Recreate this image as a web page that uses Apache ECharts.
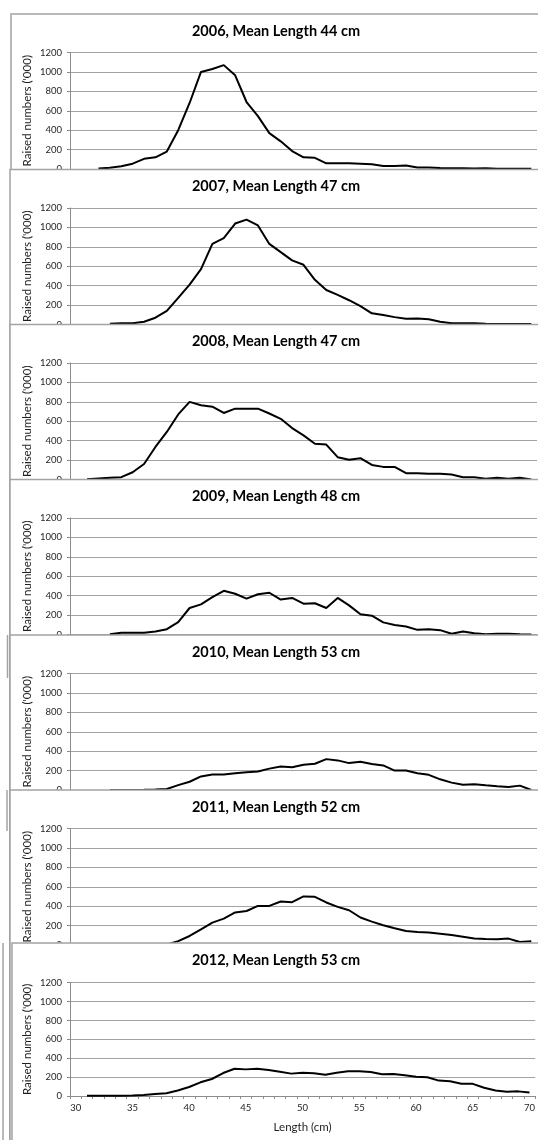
<!DOCTYPE html>
<html>
<head>
<meta charset="utf-8">
<script src="https://cdn.jsdelivr.net/npm/echarts@6/dist/echarts.min.js"></script>
<style>
  html, body { margin: 0; padding: 0; background: #fff; }
  #chart { width: 538px; height: 1140px; }
</style>
</head>
<body>
<div id="chart"></div>
<script>
// length classes (cm) on the shared category axis
var lengths = [30, 31, 32, 33, 34, 35, 36, 37, 38, 39, 40, 41, 42, 43, 44, 45, 46, 47, 48, 49, 50,
  51, 52, 53, 54, 55, 56, 57, 58, 59, 60, 61, 62, 63, 64, 65, 66, 67, 68, 69, 70];
var yTicks = [0, 200, 400, 600, 800, 1000, 1200];

// raised numbers ('000) per length class
var n2006 = [null, null, 5, 14, 28, 55, 105, 120, 180, 400, 680, 1000, 1030, 1070, 965, 690, 545, 370, 285, 185, 120,
  115, 58, 58, 58, 55, 50, 30, 30, 35, 15, 15, 10, 8, 8, 5, 8, 3, 3, 2, 2];
var n2007 = [null, null, null, 7, 12, 12, 28, 70, 140, 275, 410, 570, 830, 890, 1040, 1080, 1020, 830, 745, 660, 615,
  460, 355, 305, 250, 190, 115, 97, 76, 59, 62, 55, 28, 14, 14, 14, 8, 6, 6, 6, 6];
var n2008 = [null, 3, 10, 17, 24, 75, 160, 335, 490, 670, 800, 765, 750, 685, 730, 730, 730, 680, 625, 530, 455,
  368, 360, 230, 203, 220, 150, 130, 130, 65, 65, 58, 58, 52, 24, 24, 7, 17, 7, 17, 0];
var n2009 = [null, null, null, 2, 17, 17, 17, 30, 55, 128, 273, 310, 385, 450, 420, 370, 415, 430, 360, 377, 318,
  322, 273, 377, 300, 208, 194, 125, 97, 83, 48, 55, 45, 7, 30, 14, 3, 7, 7, 3, 0];
var n2010 = [null, null, null, 0, 0, 0, 2, 5, 10, 50, 85, 140, 160, 160, 173, 183, 190, 220, 242, 235, 260,
  270, 318, 305, 277, 290, 267, 253, 200, 200, 173, 156, 110, 76, 55, 59, 48, 38, 31, 45, 0];
var n2011 = [null, null, null, null, null, null, null, null, 5, 40, 93, 160, 230, 272, 335, 350, 403, 403, 448, 441, 500,
  496, 438, 393, 358, 283, 241, 203, 172, 145, 134, 128, 117, 103, 86, 66, 62, 59, 66, 31, 38];
var n2012 = [null, 2, 2, 2, 2, 5, 10, 20, 30, 58, 95, 145, 180, 243, 288, 282, 288, 275, 257, 237, 247,
  240, 226, 247, 261, 261, 254, 230, 233, 219, 205, 198, 163, 157, 129, 129, 87, 59, 45, 49, 38];

var years = [2006, 2007, 2008, 2009, 2010, 2011, 2012];
var meanLengths = [44, 47, 47, 48, 53, 52, 53];
var seriesData = [n2006, n2007, n2008, n2009, n2010, n2011, n2012];

// each panel is a separate "sheet" laid over the one above it
var panelTop = [14, 169.5, 324.5, 479.5, 635, 790, 943];
var panelLeft = [11, 10, 10, 10, 10, 10, 12];

var font = 'Lato, "Open Sans", sans-serif';
var textColor = '#1f1f1f';
var lineGray = '#a3a3a3';

var grids = [], xAxes = [], yAxes = [], series = [], elements = [];

// stray edges of the sheets underneath
elements.push({type: 'line', z: 0, shape: {x1: 7.5, y1: 635, x2: 7.5, y2: 678}, style: {stroke: lineGray, lineWidth: 1.5}});
elements.push({type: 'line', z: 0, shape: {x1: 7, y1: 790, x2: 7, y2: 831}, style: {stroke: lineGray, lineWidth: 1.5}});
elements.push({type: 'line', z: 0, shape: {x1: 3, y1: 943, x2: 3, y2: 1140}, style: {stroke: lineGray, lineWidth: 1.5}});

for (var i = 0; i < years.length; i++) {
  var last = i === years.length - 1;
  var T = panelTop[i];
  var base = 10 * i;

  elements.push({
    type: 'rect', z: base + 1,
    shape: {x: panelLeft[i], y: T, width: 560, height: 1200 - T},
    style: {fill: '#fff', stroke: lineGray, lineWidth: 1.5}
  });
  elements.push({
    type: 'text', z: base + 4,
    x: 276, y: T + 17,
    style: {
      text: years[i] + ', Mean Length ' + meanLengths[i] + ' cm',
      align: 'center', verticalAlign: 'middle',
      font: 'bold 14.5px ' + font, fill: '#000'
    }
  });

  grids.push({
    left: 70, right: 1,
    top: last ? 982.7 : T + 38.5,
    height: last ? 113.3 : 116.5,
    containLabel: false
  });

  xAxes.push({
    gridIndex: i,
    type: 'category',
    data: lengths,
    boundaryGap: true,
    show: last,
    z: base + 3,
    name: 'Length (cm)',
    nameLocation: 'middle',
    nameGap: 25,
    nameTextStyle: {fontFamily: font, fontSize: 11.5, color: textColor},
    axisLine: {lineStyle: {color: '#8c8c8c', width: 1}},
    axisTick: {show: true, interval: 0, length: 3, lineStyle: {color: '#8c8c8c'}},
    axisLabel: {interval: 4, margin: 7, fontFamily: font, fontSize: 9.5, color: textColor},
    splitLine: {show: false}
  });

  yAxes.push({
    gridIndex: i,
    type: 'value',
    min: yTicks[0],
    max: yTicks[yTicks.length - 1],
    interval: 200,
    z: base + 3,
    name: "Raised numbers ('000)",
    nameLocation: 'middle',
    nameGap: 37,
    nameMoveOverlap: false,
    nameTextStyle: {fontFamily: font, fontSize: 11.5, color: textColor},
    axisLine: {show: true, lineStyle: {color: '#8c8c8c', width: 1}},
    axisTick: {show: true, length: 3, lineStyle: {color: '#8c8c8c'}},
    axisLabel: {
      margin: 8, fontFamily: font, fontSize: 9.5, color: textColor,
      formatter: function (v) { return String(v); }
    },
    splitLine: {show: true, lineStyle: {color: lineGray, width: 1}}
  });

  series.push({
    name: String(years[i]),
    type: 'line',
    xAxisIndex: i,
    yAxisIndex: i,
    data: seriesData[i],
    z: base + 5,
    symbol: 'none',
    showSymbol: false,
    connectNulls: false,
    lineStyle: {color: '#000', width: 2}
  });
}

var myChart = echarts.init(document.getElementById('chart'), null, {renderer: 'canvas'});
myChart.setOption({
  animation: false,
  backgroundColor: '#fff',
  grid: grids,
  xAxis: xAxes,
  yAxis: yAxes,
  series: series,
  graphic: {elements: elements}
});
</script>
</body>
</html>
